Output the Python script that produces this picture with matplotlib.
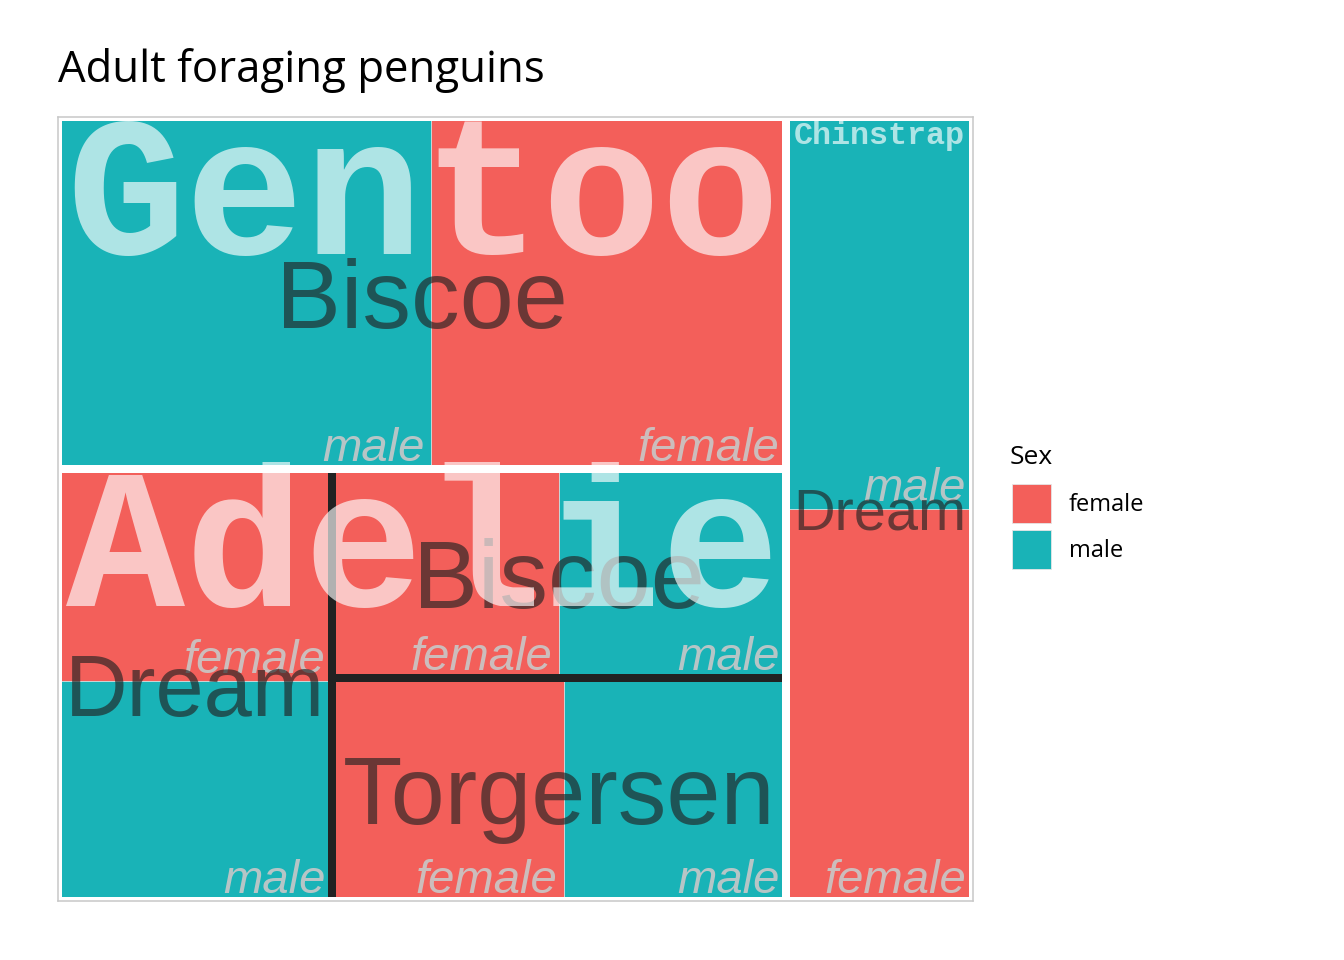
import matplotlib
matplotlib.use('Agg')
from matplotlib import pyplot as plt
from matplotlib.patches import Rectangle, Patch

# adult foraging penguins, counted by species / island / sex
species = ['Adelie', 'Adelie', 'Adelie', 'Adelie', 'Adelie', 'Adelie',
           'Chinstrap', 'Chinstrap', 'Gentoo', 'Gentoo']
island = ['Biscoe', 'Biscoe', 'Dream', 'Dream', 'Torgersen', 'Torgersen',
          'Dream', 'Dream', 'Biscoe', 'Biscoe']
sex = ['female', 'male', 'female', 'male', 'female', 'male',
       'female', 'male', 'female', 'male']
count = [22, 22, 27, 28, 24, 23, 34, 34, 58, 61]

sex_levels = ['female', 'male']
sex_colours = {'female': '#F35F5A', 'male': '#19B3B7'}

PAD = 7  # px


def worst(row, side):
    s = sum(row)
    return max(side * side * max(row) / (s * s), s * s / (side * side * min(row)))


def squarify(values, x, y, w, h):
    """
    squarified layout starting in the bottom left corner
    :return: dict index -> (x, y, w, h)
    """
    order = sorted(range(len(values)), key=lambda i: -values[i])
    total = float(sum(values))
    areas = [values[i] / total * w * h for i in order]
    rects = {}
    i = 0
    while i < len(order):
        side = min(w, h)
        j = i + 1
        while j < len(order) and worst(areas[i:j + 1], side) <= worst(areas[i:j], side):
            j += 1
        row_sum = sum(areas[i:j])
        if w >= h:
            cw = row_sum / h
            yy = y
            for k in range(i, j):
                ch = areas[k] / cw
                rects[order[k]] = (x, yy, cw, ch)
                yy += ch
            x += cw
            w -= cw
        else:
            rh = row_sum / w
            xx = x
            for k in range(i, j):
                cw = areas[k] / rh
                rects[order[k]] = (xx, y, cw, rh)
                xx += cw
            y += rh
            h -= rh
        i = j
    return rects


def unique(seq):
    out = []
    for s in seq:
        if s not in out:
            out.append(s)
    return out


# build the hierarchy
groups = unique(species)
group_vals = [sum(c for s, c in zip(species, count) if s == g) for g in groups]
group_rects = squarify(group_vals, 0, 0, 1, 1)

sub_rects = []   # (species, island, rect)
tile_rects = []  # (species, island, sex, rect)
for gi, g in enumerate(groups):
    isl = unique([i for s, i in zip(species, island) if s == g])
    isl_vals = [sum(c for s, i, c in zip(species, island, count) if s == g and i == x) for x in isl]
    r = squarify(isl_vals, *group_rects[gi])
    for ii, name in enumerate(isl):
        sub_rects.append((g, name, r[ii]))
        sx = [x for s, i, x in zip(species, island, sex) if s == g and i == name]
        sv = [c for s, i, c in zip(species, island, count) if s == g and i == name]
        tr = squarify(sv, *r[ii])
        for k, x in enumerate(sx):
            tile_rects.append((g, name, x, tr[k]))

fig = plt.figure(figsize=(13.44, 9.6), dpi=100)
ax = fig.add_axes([58 / 1344, 59 / 960, 915 / 1344, 784 / 960])
ax.set_xlim(0, 1)
ax.set_ylim(0, 1)
ax.set_xticks([])
ax.set_yticks([])
for sp in ax.spines.values():
    sp.set_color('#C8C8C8')
    sp.set_linewidth(1.1)
    sp.set_zorder(10)

renderer = fig.canvas.get_renderer()
bbox = ax.get_window_extent(renderer)
pxw, pxh = bbox.width, bbox.height
PT = 72.0 / fig.dpi  # pt per px


def text_width(txt, fs, **kw):
    t = ax.text(0, 0, txt, fontsize=fs, **kw)
    w = t.get_window_extent(renderer).width
    t.remove()
    return w


# tiles
for g, i, s, (x, y, w, h) in tile_rects:
    ax.add_patch(Rectangle((x, y), w, h, facecolor=sex_colours[s],
                           edgecolor='#D8D8D8', linewidth=0.6, zorder=1))
    ax.text(x + w - PAD / pxw, y + 8 / pxh, s, ha='right', va='baseline',
            fontsize=34, family='Liberation Sans', style='italic',
            color='#C8C8C8', alpha=0.9, zorder=2)

# island borders + labels
for g, i, (x, y, w, h) in sub_rects:
    ax.add_patch(Rectangle((x, y), w, h, fill=False, edgecolor='#212222',
                           linewidth=8 * PT, zorder=3))
    fs = 70
    tw = text_width(i, fs, family='Liberation Sans')
    fs = min(fs, fs * (w * pxw - 2 * PAD) / tw)
    cap = 0.716 * fs / PT
    ax.text(x + w / 2, y + h / 2 - cap / 2 / pxh, i, ha='center', va='baseline',
            fontsize=fs, family='Liberation Sans', color='#222222', alpha=0.65,
            zorder=4)

# species borders + labels
for gi, g in enumerate(groups):
    x, y, w, h = group_rects[gi]
    ax.add_patch(Rectangle((x, y), w, h, fill=False, edgecolor='white',
                           linewidth=8 * PT, zorder=5))
    fs = 20
    tw = text_width(g, fs, family='Liberation Mono', weight='bold')
    fs = fs * (w * pxw - 2 * (PAD + 1)) / tw
    fs = min(fs, (h * pxh - 2 * PAD) * PT)
    top = y + h - (6 + 0.66 * fs / PT) / pxh
    ax.text(x + (PAD + 1) / pxw, top, g, ha='left', va='baseline', fontsize=fs,
            family='Liberation Mono', weight='bold', color='white', alpha=0.65,
            zorder=6)

fig.text(58 / 1344, 1 - 82 / 960, 'Adult foraging penguins', ha='left',
         va='baseline', fontsize=31.5, family='Open Sans', color='black')

# legend
fig.text(1010 / 1344, 1 - 457 / 960, 'Sex', ha='left', va='center',
         fontsize=19, family='Open Sans', color='black')
handles = [Patch(facecolor=sex_colours[s], edgecolor='#E6E6E6', linewidth=0.6)
           for s in sex_levels]
leg = fig.legend(handles, sex_levels, loc='upper left',
                 bbox_to_anchor=(1012 / 1344, 1 - 484 / 960), frameon=False,
                 prop={'family': 'Open Sans', 'size': 17},
                 handlelength=1.65, handleheight=2.15, labelspacing=0.3,
                 handletextpad=0.75, borderpad=0, borderaxespad=0)

fig.savefig('out.png', dpi=100, facecolor='white')
